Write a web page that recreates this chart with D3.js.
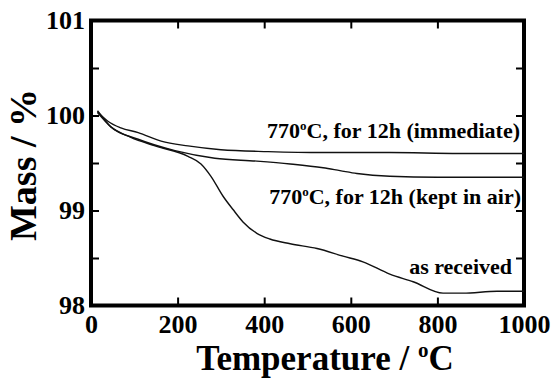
<!DOCTYPE html>
<html>
<head>
<meta charset="utf-8">
<script src="https://cdn.jsdelivr.net/npm/d3@7"></script>
<style>
  body { margin: 0; background: #fff; }
  svg { display: block; }
  svg text { font-family: "Liberation Serif", "Times New Roman", Times, "DejaVu Serif", serif; font-weight: bold; }
</style>
</head>
<body>
<div id="chart"></div>
<script>
// TGA curves
var tempImmediate = [15, 39, 69, 109, 162, 224, 300, 409, 536, 690, 850, 1000];
var massImmediate = [100.04, 99.94, 99.87, 99.82, 99.73, 99.68, 99.64, 99.62, 99.61, 99.61, 99.60, 99.60];

var tempKept = [15, 46, 109, 194, 286, 383, 460, 536, 575, 614, 690, 800, 1000];
var massKept = [100.05, 99.88, 99.75, 99.63, 99.55, 99.52, 99.49, 99.45, 99.42, 99.39, 99.36, 99.35, 99.35];

var tempReceived = [15, 46, 92, 148, 224, 254, 277, 305, 328, 351, 383, 413, 460, 522, 582, 628, 690, 744, 813, 859, 938, 1000];
var massReceived = [100.03, 99.88, 99.77, 99.68, 99.57, 99.49, 99.36, 99.15, 99.01, 98.88, 98.76, 98.70, 98.65, 98.60, 98.52, 98.46, 98.33, 98.25, 98.13, 98.13, 98.15, 98.15];

var xTicks = [0, 200, 400, 600, 800, 1000];
var yTicks = [98, 98.5, 99, 99.5, 100, 100.5, 101];

var labels = [
    { pre: "770", post: "C, for 12h (immediate)", x: 520, y: 138 },
    { pre: "770", post: "C, for 12h (kept in air)", x: 521, y: 204 },
    { pre: "as received", post: null, x: 512, y: 274 }
];

var width = 555, height = 378;

var svg = d3.select("#chart").append("svg")
    .attr("width", width)
    .attr("height", height);

var x = d3.scaleLinear().domain([0, 1000]).range([91, 524]),
    y = d3.scaleLinear().domain([98, 101]).range([305.5, 20.5]);

function styleAxis(g) {
    g.select(".domain").remove();
    g.selectAll("line").attr("stroke", "#000").attr("stroke-width", 2);
    g.attr("font-family", null).attr("font-size", 26);
    g.selectAll("text").attr("fill", "#000");
}

svg.append("g")
    .attr("transform", "translate(0," + y(98) + ")")
    .call(d3.axisBottom(x).tickValues(xTicks).tickSize(-8).tickPadding(9).tickFormat(d3.format("d")))
    .call(styleAxis);

svg.append("g")
    .attr("transform", "translate(0," + y(101) + ")")
    .call(d3.axisTop(x).tickValues(xTicks).tickSize(-8).tickFormat(""))
    .call(styleAxis);

svg.append("g")
    .attr("transform", "translate(" + x(0) + ",0)")
    .call(d3.axisLeft(y).tickValues(yTicks).tickSize(-8).tickPadding(6)
        .tickFormat(function(d) { return d % 1 === 0 ? d : ""; }))
    .call(styleAxis);

svg.append("g")
    .attr("transform", "translate(" + x(1000) + ",0)")
    .call(d3.axisRight(y).tickValues(yTicks).tickSize(-8).tickFormat(""))
    .call(styleAxis);

// frame
svg.append("rect")
    .attr("x", x(0))
    .attr("y", y(101))
    .attr("width", x(1000) - x(0))
    .attr("height", y(98) - y(101))
    .attr("fill", "none")
    .attr("stroke", "#000")
    .attr("stroke-width", 4);

var line = d3.line()
    .x(function(d) { return x(d[0]); })
    .y(function(d) { return y(d[1]); })
    .curve(d3.curveMonotoneX);

[[tempImmediate, massImmediate], [tempKept, massKept], [tempReceived, massReceived]].forEach(function(s) {
    svg.append("path")
        .datum(d3.zip(s[0], s[1]))
        .attr("fill", "none")
        .attr("stroke", "#111")
        .attr("stroke-width", 1.4)
        .attr("d", line);
});

// curve labels
labels.forEach(function(l) {
    var t = svg.append("text")
        .attr("x", l.x)
        .attr("y", l.y)
        .attr("text-anchor", "end")
        .attr("font-size", 22)
        .attr("fill", "#000");
    t.append("tspan").text(l.pre);
    if (l.post) {
        t.append("tspan").attr("font-size", 13).attr("dy", -8).text("o");
        t.append("tspan").attr("dy", 8).text(l.post);
    }
});

// axis titles
var xt = svg.append("text")
    .attr("x", 325)
    .attr("y", 370)
    .attr("text-anchor", "middle")
    .attr("font-size", 35)
    .attr("fill", "#000");
xt.append("tspan").text("Temperature / ");
xt.append("tspan").attr("font-size", 21).attr("dy", -13).text("o");
xt.append("tspan").attr("dy", 13).text("C");

svg.append("text")
    .attr("transform", "translate(36,165) rotate(-90)")
    .attr("text-anchor", "middle")
    .attr("font-size", 38)
    .attr("fill", "#000")
    .text("Mass / %");
</script>
</body>
</html>
